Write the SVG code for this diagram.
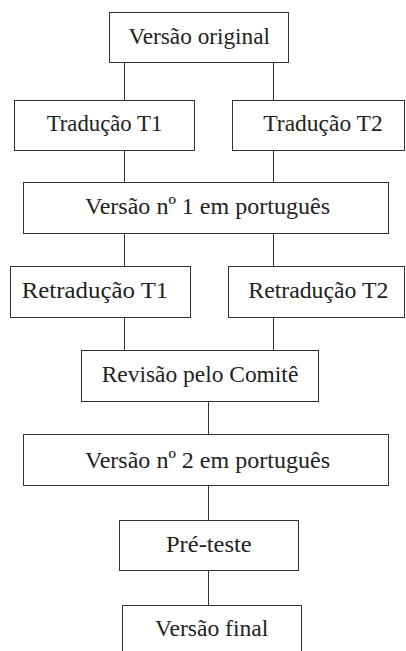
<svg xmlns="http://www.w3.org/2000/svg" width="406" height="651" viewBox="0 0 406 651">
<style>
.box{fill:#fff;stroke:#333;stroke-width:1}
.lbl{font-family:"Liberation Serif","Times New Roman",serif;font-size:24px;fill:#222}
.con{stroke:#333;stroke-width:1;fill:none}
</style>
<rect width="406" height="651" fill="#fff"/>
<g id="connectors">
<line class="con" x1="124.5" y1="62.5" x2="124.5" y2="100.5"/>
<line class="con" x1="273.5" y1="62.5" x2="273.5" y2="100.5"/>
<line class="con" x1="124.5" y1="150.5" x2="124.5" y2="182.5"/>
<line class="con" x1="273.5" y1="150.5" x2="273.5" y2="182.5"/>
<line class="con" x1="124.5" y1="233.5" x2="124.5" y2="266.5"/>
<line class="con" x1="273.5" y1="233.5" x2="273.5" y2="266.5"/>
<line class="con" x1="124.5" y1="317.5" x2="124.5" y2="350.5"/>
<line class="con" x1="273.5" y1="317.5" x2="273.5" y2="350.5"/>
<line class="con" x1="208.5" y1="401.5" x2="208.5" y2="434.5"/>
<line class="con" x1="208.5" y1="485.5" x2="208.5" y2="520.5"/>
<line class="con" x1="208.5" y1="570.5" x2="208.5" y2="605.5"/>
</g>
<g id="versao-original"><rect class="box" x="109.5" y="12.5" width="179" height="50"/><text class="lbl" x="128.5" y="43.5" textLength="141.5" lengthAdjust="spacingAndGlyphs">Versão original</text></g>
<g id="traducao-t1"><rect class="box" x="14.5" y="100.5" width="180" height="50"/><text class="lbl" x="46.7" y="131" textLength="115.6" lengthAdjust="spacingAndGlyphs">Tradução T1</text></g>
<g id="traducao-t2"><rect class="box" x="232.5" y="100.5" width="172" height="50"/><text class="lbl" x="263.3" y="131" textLength="119.4" lengthAdjust="spacingAndGlyphs">Tradução T2</text></g>
<g id="versao-1"><rect class="box" x="23.5" y="182.5" width="365" height="51"/><text class="lbl" x="85" y="214.3" textLength="245" lengthAdjust="spacingAndGlyphs">Versão nº 1 em português</text></g>
<g id="retraducao-t1"><rect class="box" x="10.5" y="266.5" width="180" height="51"/><text class="lbl" x="21.7" y="298.3" textLength="146.6" lengthAdjust="spacingAndGlyphs">Retradução T1</text></g>
<g id="retraducao-t2"><rect class="box" x="228.5" y="266.5" width="176" height="51"/><text class="lbl" x="248.3" y="298.3" textLength="140" lengthAdjust="spacingAndGlyphs">Retradução T2</text></g>
<g id="revisao"><rect class="box" x="81.5" y="350.5" width="237" height="51"/><text class="lbl" x="101.7" y="381.7" textLength="196.6" lengthAdjust="spacingAndGlyphs">Revisão pelo Comitê</text></g>
<g id="versao-2"><rect class="box" x="23.5" y="434.5" width="365" height="51"/><text class="lbl" x="85" y="468.3" textLength="245" lengthAdjust="spacingAndGlyphs">Versão nº 2 em português</text></g>
<g id="pre-teste"><rect class="box" x="119.5" y="520.5" width="179" height="50"/><text class="lbl" x="166" y="551.7" textLength="85.7" lengthAdjust="spacingAndGlyphs">Pré-teste</text></g>
<g id="versao-final"><rect class="box" x="122.5" y="605.5" width="179" height="60"/><text class="lbl" x="155" y="635.7" textLength="113.3" lengthAdjust="spacingAndGlyphs">Versão final</text></g>
</svg>
